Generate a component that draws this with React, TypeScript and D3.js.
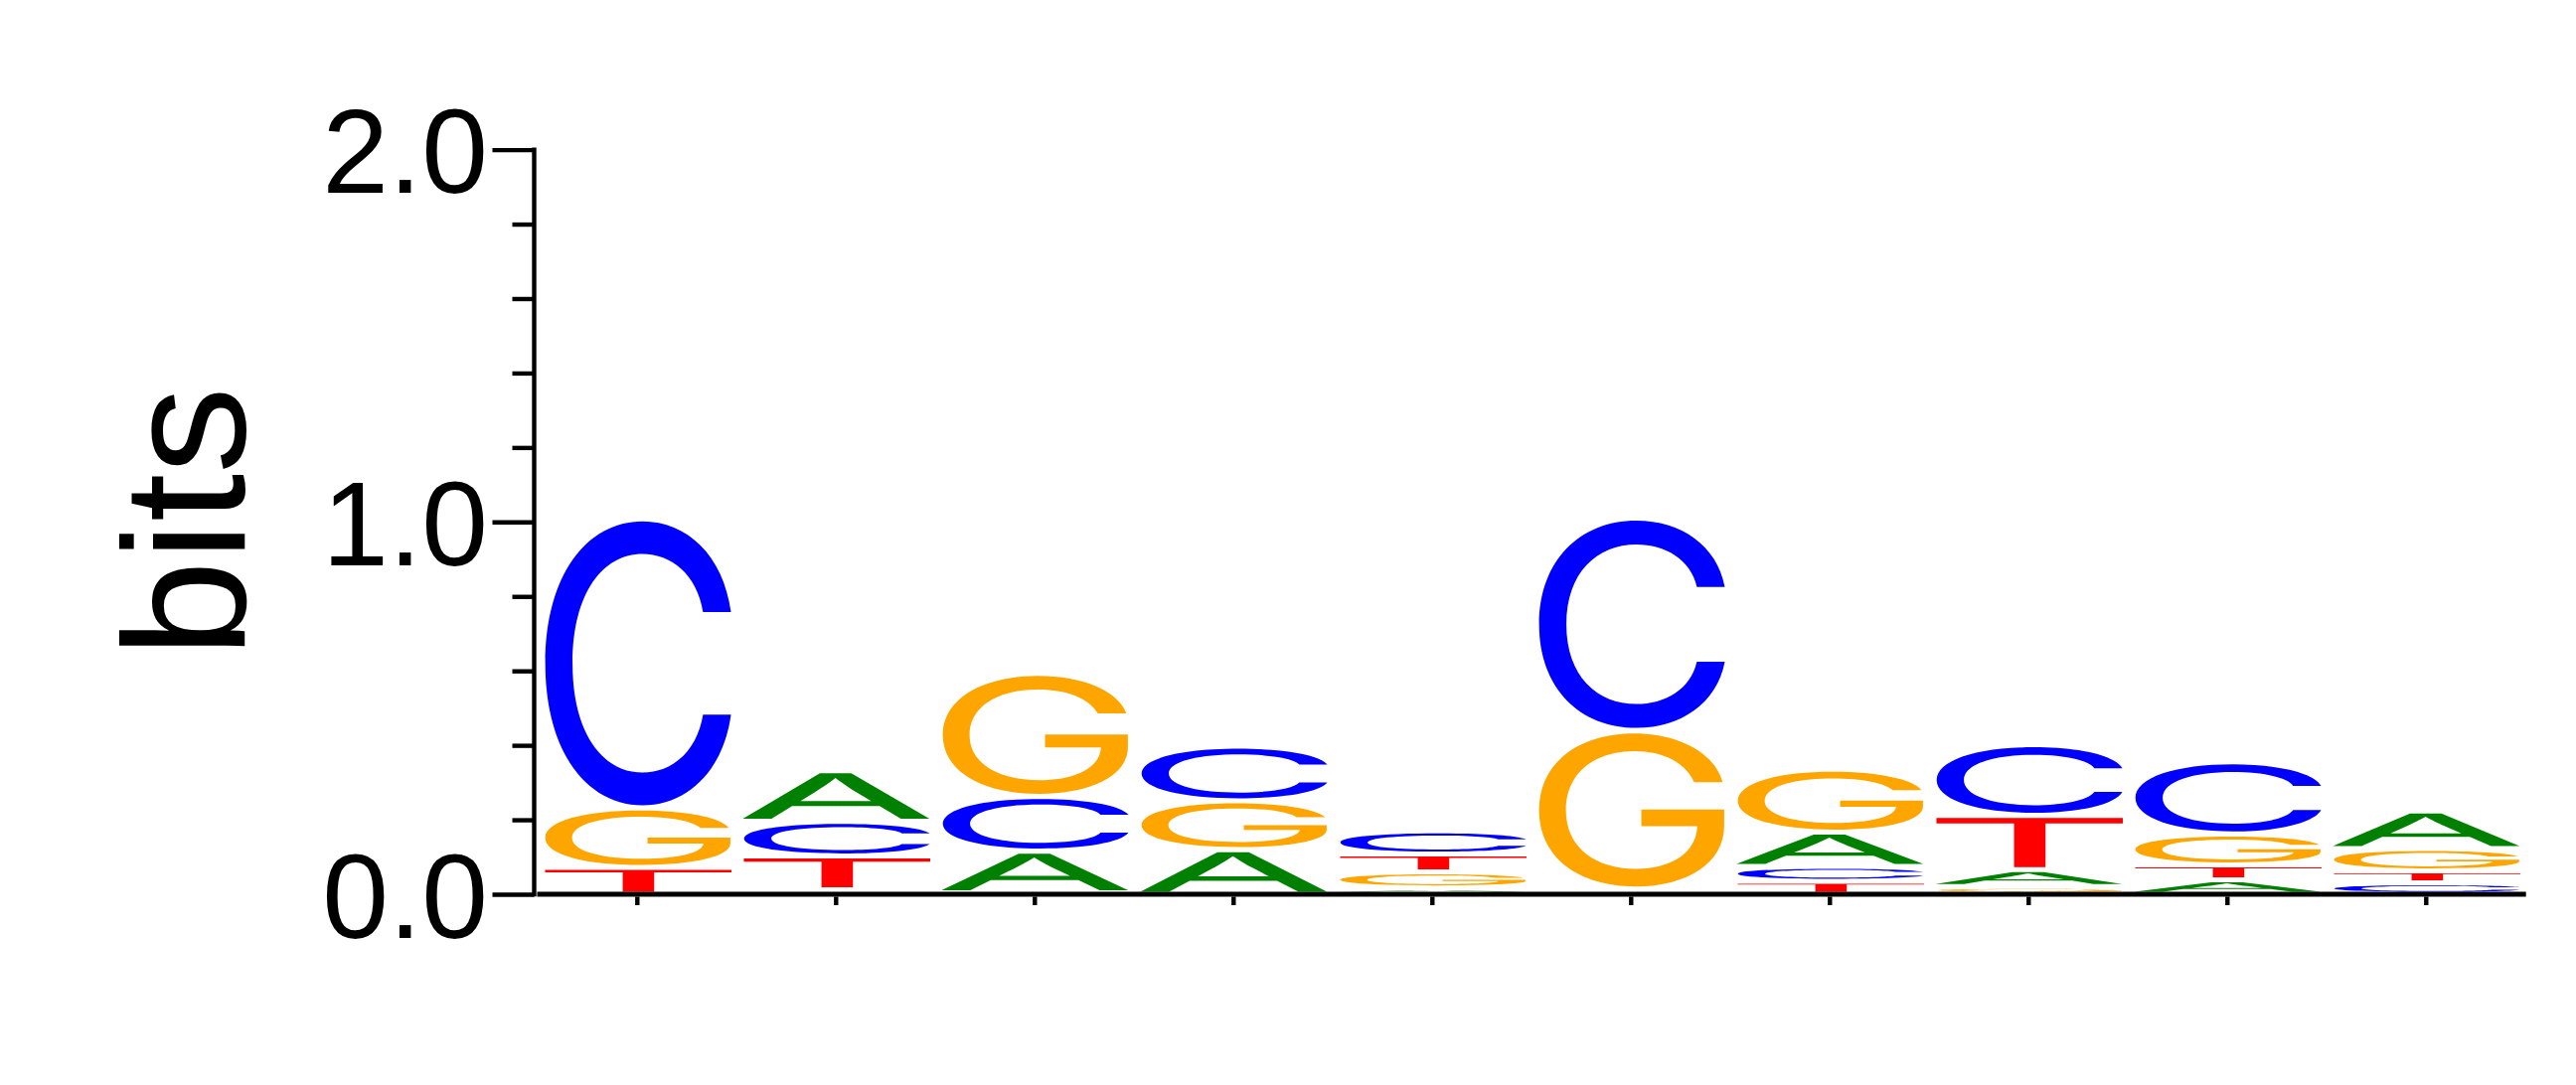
import React, { useEffect, useRef } from "react";
import * as d3 from "d3";

// information content (bits) per position
const positions = [1, 2, 3, 4, 5, 6, 7, 8, 9, 10];
const bases = ["A", "C", "G", "T"];
const bitsA = [0, 0.136, 0.112, 0.12, 0.017, 0, 0.092, 0.045, 0.039, 0.101];
const bitsC = [0.779, 0.093, 0.147, 0.147, 0.062, 0.572, 0.04, 0.19, 0.194, 0.031];
const bitsG = [0.16, 0.012, 0.331, 0.131, 0.043, 0.426, 0.169, 0.021, 0.083, 0.06];
const bitsT = [0.072, 0.091, 0.004, 0, 0.048, 0.014, 0.035, 0.146, 0.04, 0.032];
const yMajorTicks = [0, 1, 2];
const yMinorTicks = [0.2, 0.4, 0.6, 0.8, 1.2, 1.4, 1.6, 1.8];
const yTickLabels = ["0.0", "1.0", "2.0"];
const yLabel = "bits";

const baseColors: Record<string, string> = {
  A: "#008000",
  C: "#0000ff",
  G: "#ffa500",
  T: "#ff0000",
};

const FONT = "'Liberation Sans', Arial, Helvetica, sans-serif";
const GLYPH_FONT = "Inter, 'Liberation Sans', Arial, sans-serif";

export default function App() {
  const svgRef = useRef<SVGSVGElement>(null);
  const width = 2592;
  const height = 1092;

  useEffect(() => {
    if (!svgRef.current) return;
    const svg = d3.select(svgRef.current);
    svg.selectAll("*").remove();

    const axisX = 537.5;
    const x = d3
      .scaleBand<number>()
      .domain(positions)
      .range([541.3, 2541.3])
      .paddingInner(0.045)
      .paddingOuter(0.0225);
    const y = d3.scaleLinear().domain([0, 2]).range([900, 150.6]);

    const lw = 4.4;

    // ink boxes of the glyphs, so each letter fills its slot exactly
    const canvas = document.createElement("canvas");
    const ctx = canvas.getContext("2d")!;
    ctx.font = `100px ${GLYPH_FONT}`;
    const ink: Record<string, { l: number; r: number; a: number; d: number }> = {};
    bases.forEach((b) => {
      const m = ctx.measureText(b);
      ink[b] = {
        l: m.actualBoundingBoxLeft,
        r: m.actualBoundingBoxRight,
        a: m.actualBoundingBoxAscent,
        d: m.actualBoundingBoxDescent,
      };
    });

    const series: Record<string, number[]> = { A: bitsA, C: bitsC, G: bitsG, T: bitsT };
    const pad = 2.5;
    const logo = svg.append("g");

    positions.forEach((p, i) => {
      const stack = bases
        .map((b) => ({ base: b, bits: series[b][i] }))
        .sort((a, b) => a.bits - b.bits);
      let cum = 0;
      stack.forEach((s) => {
        const y0 = y(cum);
        const y1 = y(cum + s.bits);
        cum += s.bits;
        const h = y0 - y1 - 2 * pad;
        if (h <= 0.6) return;
        const e = ink[s.base];
        const w = x.bandwidth();
        const sx = w / (e.l + e.r);
        const sy = h / (e.a + e.d);
        logo
          .append("text")
          .attr(
            "transform",
            `translate(${x(p)},${y1 + pad}) scale(${sx},${sy}) translate(${e.l},${e.a})`
          )
          .attr("fill", baseColors[s.base])
          .style("font-family", GLYPH_FONT)
          .style("font-size", "100px")
          .text(s.base);
      });
    });

    // y axis
    svg
      .append("line")
      .attr("x1", axisX)
      .attr("x2", axisX)
      .attr("y1", y(2) - lw / 2)
      .attr("y2", y(0) + lw / 2)
      .attr("stroke", "#000")
      .attr("stroke-width", lw);

    const major = svg
      .append("g")
      .attr("transform", `translate(${axisX},0)`)
      .call(
        d3
          .axisLeft(y)
          .tickValues(yMajorTicks)
          .tickSize(42)
          .tickPadding(4.5)
          .tickFormat((_, i) => yTickLabels[i])
      );
    major.select(".domain").remove();
    major.selectAll("line").attr("stroke-width", lw);
    major
      .selectAll("text")
      .attr("dy", "0.36em")
      .attr("fill", "#000")
      .style("font-family", FONT)
      .style("font-size", "120px");

    const minor = svg
      .append("g")
      .attr("transform", `translate(${axisX},0)`)
      .call(d3.axisLeft(y).tickValues(yMinorTicks).tickSize(22).tickFormat(() => ""));
    minor.select(".domain").remove();
    minor.selectAll("line").attr("stroke-width", lw);

    // x axis
    svg
      .append("line")
      .attr("x1", 540.5)
      .attr("x2", 2541.7)
      .attr("y1", y(0))
      .attr("y2", y(0))
      .attr("stroke", "#000")
      .attr("stroke-width", 5);

    const xa = svg
      .append("g")
      .attr("transform", `translate(0,${y(0) + 2.5})`)
      .call(d3.axisBottom(x).tickSize(8.5).tickFormat(() => ""));
    xa.select(".domain").remove();
    xa.selectAll("line").attr("stroke-width", lw);

    // y label
    svg
      .append("text")
      .attr("transform", `translate(246,${y(1)}) rotate(-90)`)
      .attr("text-anchor", "middle")
      .attr("fill", "#000")
      .style("font-family", FONT)
      .style("font-size", "175px")
      .text(yLabel);
  }, []);

  return (
    <svg
      ref={svgRef}
      width={width}
      height={height}
      viewBox={`0 0 ${width} ${height}`}
      style={{ position: "absolute", left: 0, top: 0, background: "#fff" }}
    />
  );
}
